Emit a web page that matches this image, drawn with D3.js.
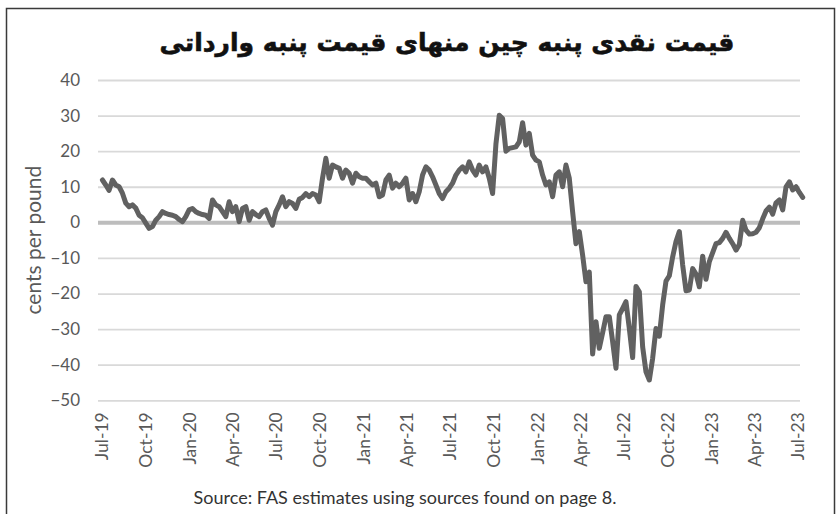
<!DOCTYPE html>
<html>
<head>
<meta charset="utf-8">
<script src="https://cdn.jsdelivr.net/npm/d3@7"></script>
<style>
  html, body { margin: 0; padding: 0; background: #fff; }
  svg { display: block; }
</style>
</head>
<body>
<svg id="chart" width="838" height="514"></svg>
<script>
// Chart text
const titleText = "قیمت نقدی پنبه چین منهای قیمت پنبه وارداتی";
const yAxisTitle = "cents per pound";
const sourceText = "Source: FAS estimates using sources found on page 8.";

// Axis ticks
const yTicks = [40, 30, 20, 10, 0, -10, -20, -30, -40, -50];
const xTickLabels = ["Jul-19", "Oct-19", "Jan-20", "Apr-20", "Jul-20", "Oct-20", "Jan-21",
  "Apr-21", "Jul-21", "Oct-21", "Jan-22", "Apr-22", "Jul-22", "Oct-22", "Jan-23", "Apr-23", "Jul-23"];

// Weekly series: spread between China spot cotton price and imported cotton price (cents/lb)
const firstWeek = "2019-07-04";
const spread = [
  11.9, 10.5, 9.0, 11.9, 10.5, 10.0, 8.2, 5.4, 4.4, 4.9, 4.0, 2.0, 1.3, -0.2, -1.7, -1.2,
  0.6, 1.6, 3.0, 2.5, 2.2, 2.0, 1.6, 0.8, 0.2, 1.6, 3.5, 3.9, 3.0, 2.5, 2.2, 2.0,
  1.1, 6.3, 4.9, 4.4, 3.0, 1.6, 5.8, 3.0, 4.4, 0.2, 3.9, 4.4, 0.6, 3.0, 2.2, 1.6,
  3.0, 3.5, 1.1, -0.8, 3.0, 4.9, 7.2, 4.4, 5.8, 5.3, 3.9, 6.5, 7.0, 8.1, 7.2, 8.1,
  7.7, 5.8, 12.4, 18.0, 12.4, 16.1, 15.6, 15.2, 12.4, 14.7, 13.8, 11.0, 13.8, 12.8, 12.4, 12.4,
  11.4, 10.5, 11.0, 7.2, 7.7, 11.9, 13.3, 9.6, 11.0, 10.0, 11.0, 12.4, 6.3, 8.1, 5.8, 8.6,
  13.3, 15.6, 14.7, 12.8, 10.5, 8.1, 6.7, 8.6, 9.6, 11.0, 13.3, 14.7, 15.6, 14.2, 17.0, 14.7,
  13.3, 16.1, 14.2, 15.6, 12.4, 8.1, 22.0, 30.1, 29.2, 20.0, 20.8, 21.0, 21.2, 22.6, 28.0, 21.7,
  25.0, 18.9, 17.5, 17.0, 13.3, 10.5, 11.4, 7.2, 13.3, 14.2, 10.0, 16.1, 12.4, 3.0, -6.0, -2.6,
  -9.2, -16.7, -14.0, -37.0, -27.9, -35.4, -31.0, -26.5, -26.5, -33.5, -41.0, -26.0, -24.2, -22.3, -29.8, -38.0,
  -18.0, -19.5, -35.0, -42.0, -44.3, -38.2, -29.8, -32.0, -23.2, -16.5, -15.0, -9.7, -5.4, -2.6, -12.0, -19.2,
  -19.0, -13.0, -14.5, -18.1, -9.5, -16.0, -11.0, -8.5, -6.0, -5.7, -4.5, -2.8, -4.5, -6.0, -7.8, -6.2,
  0.6, -2.2, -3.3, -3.2, -2.8, -1.5, 1.0, 3.2, 4.3, 2.3, 5.5, 6.3, 3.5, 10.0, 11.4, 9.1,
  10.0, 8.4, 7.0
];

// Layout
const W = 838, H = 514;
const plot = { left: 98, right: 800, top: 80, bottom: 400.3 };
const firstTickX = 101, lastTickX = 797;

const svg = d3.select("#chart");
const latin = "Lato, 'Open Sans', 'Liberation Sans', sans-serif";
const axisGrey = "#595959";

// Frame around the figure
svg.append("rect")
  .attr("x", 6.5).attr("y", 8.5)
  .attr("width", 828).attr("height", 520)
  .attr("fill", "none").attr("stroke", "#3a3a3a").attr("stroke-width", 1.5);

// Scales
const parseDay = d3.timeParse("%Y-%m-%d");
const parseTick = d3.timeParse("%b-%y");
const tickDates = xTickLabels.map(parseTick);
const x = d3.scaleTime()
  .domain([tickDates[0], tickDates[tickDates.length - 1]])
  .range([firstTickX, lastTickX]);
const y = d3.scaleLinear().domain([-50, 40]).range([plot.bottom, plot.top]);

const start = parseDay(firstWeek);
const series = spread.map((v, i) => ({ date: d3.timeDay.offset(start, i * 7), value: v }));

// Horizontal gridlines
const yAxis = d3.axisLeft(y)
  .tickValues(yTicks)
  .tickSize(-(plot.right - plot.left))
  .tickPadding(18)
  .tickFormat(d3.format("d"));
const gy = svg.append("g")
  .attr("transform", `translate(${plot.left},0)`)
  .call(yAxis);
gy.select(".domain").remove();
gy.selectAll(".tick line")
  .attr("stroke", d => d === 0 ? "#bdbdbd" : "#d9d9d9")
  .attr("stroke-width", d => d === 0 ? 4 : 1.8);
gy.selectAll(".tick text")
  .attr("fill", axisGrey)
  .attr("font-family", latin)
  .attr("font-size", 17);

// Date axis labels (rotated)
const xAxis = d3.axisBottom(x)
  .tickValues(tickDates)
  .tickSize(0)
  .tickFormat((d, i) => xTickLabels[i]);
const gx = svg.append("g")
  .attr("transform", `translate(0,${plot.bottom})`)
  .call(xAxis);
gx.select(".domain").remove();
gx.selectAll(".tick text")
  .attr("fill", axisGrey)
  .attr("font-family", latin)
  .attr("font-size", 17.5)
  .attr("text-anchor", "end")
  .attr("dominant-baseline", "central")
  .attr("dy", null)
  .attr("y", 0)
  .attr("transform", "translate(0,12) rotate(-90)");

// Spread line
const line = d3.line()
  .x(d => x(d.date))
  .y(d => y(d.value))
  .curve(d3.curveLinear);
svg.append("path")
  .datum(series)
  .attr("d", line)
  .attr("fill", "none")
  .attr("stroke", "#616161")
  .attr("stroke-width", 5)
  .attr("stroke-linejoin", "round")
  .attr("stroke-linecap", "round");

// Y-axis title
svg.append("text")
  .attr("transform", `translate(32,${(plot.top + plot.bottom) / 2}) rotate(-90)`)
  .attr("text-anchor", "middle")
  .attr("dominant-baseline", "central")
  .attr("fill", axisGrey)
  .attr("font-family", latin)
  .attr("font-size", 21)
  .text(yAxisTitle);

// Title
svg.append("text")
  .attr("x", 447).attr("y", 42)
  .attr("text-anchor", "middle")
  .attr("dominant-baseline", "central")
  .attr("direction", "rtl")
  .attr("fill", "#111")
  .attr("stroke", "#111")
  .attr("stroke-width", 0.6)
  .attr("font-family", "'DejaVu Sans', sans-serif")
  .attr("font-weight", "bold")
  .attr("font-size", 25)
  .text(titleText);

// Source note
svg.append("text")
  .attr("x", 405).attr("y", 497)
  .attr("text-anchor", "middle")
  .attr("dominant-baseline", "central")
  .attr("fill", "#333")
  .attr("font-family", latin)
  .attr("font-size", 18)
  .text(sourceText);
</script>
</body>
</html>
